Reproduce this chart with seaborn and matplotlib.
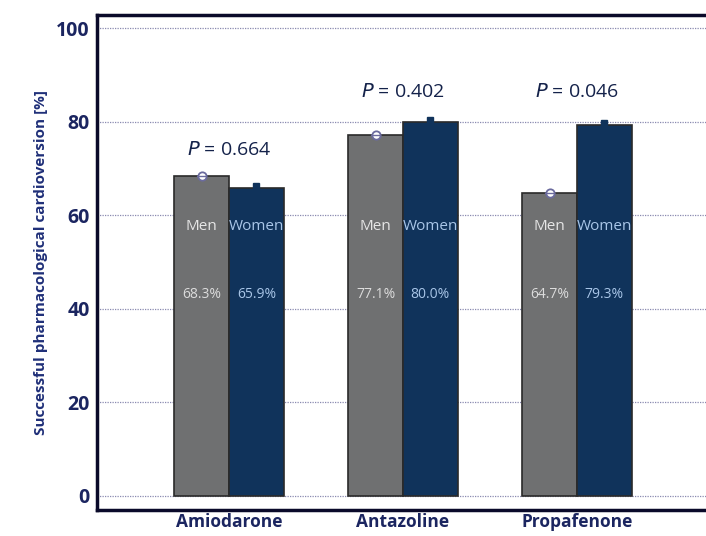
import matplotlib
matplotlib.use("Agg")
import matplotlib.pyplot as plt
from matplotlib.ticker import MultipleLocator
import seaborn as sns
import pandas as pd

# values
drugs = ["Amiodarone", "Antazoline", "Propafenone"]
sexes = ["Men", "Women"]
men_pct = [68.3, 77.1, 64.7]
women_pct = [65.9, 80.0, 79.3]
p_values = ["0.664", "0.402", "0.046"]
p_label_y = [74, 86.3, 86.3]

df = pd.DataFrame({
    "drug": drugs * 2,
    "sex": ["Men"] * 3 + ["Women"] * 3,
    "pct": men_pct + women_pct,
})

sns.set_style("white")
plt.rcParams["font.family"] = ["Open Sans", "DejaVu Sans"]

navy_text = "#1b2560"
fig = plt.figure(figsize=(7.06, 5.36), dpi=100)
ax = fig.add_axes([0.137, 0.0485, 0.87, 0.9235])

sns.barplot(data=df, x="drug", y="pct", hue="sex", order=drugs, hue_order=sexes,
            palette={"Men": "#6f7071", "Women": "#10335b"}, width=0.63,
            saturation=1, edgecolor="#2a2a2a", linewidth=1.2, errorbar=None,
            legend=False, ax=ax, zorder=3)

ax.set_xlim(-0.76, 2.77)
ax.set_ylim(-3, 102.8)

# error markers on top of the bars
off = 0.63 / 4
for i in range(3):
    ax.plot(i - off, men_pct[i], marker="o", ms=6, mfc="white", mec="#6b6b9e",
            mew=1.3, zorder=5)
    ax.plot([i - off - 0.025, i - off + 0.025], [men_pct[i]] * 2, color="#6b6b9e",
            lw=1, zorder=6)
    ax.plot(i + off, women_pct[i] + 0.4, marker="s", ms=5, color="#10335b", zorder=5)

    ax.text(i - off, 57.5, "Men", ha="center", va="center", fontsize=11,
            color="#e6e6e6", zorder=6)
    ax.text(i + off, 57.5, "Women", ha="center", va="center", fontsize=11,
            color="#a9c6e8", zorder=6)
    ax.text(i - off, 43, f"{men_pct[i]:.1f}%", ha="center", va="center",
            fontsize=10, color="#dcdcdc", zorder=6)
    ax.text(i + off, 43, f"{women_pct[i]:.1f}%", ha="center", va="center",
            fontsize=10, color="#a9c6e8", zorder=6)
    ax.text(i, p_label_y[i], "$P$ = " + p_values[i], ha="center", va="center",
            fontsize=14, color="#14224a", zorder=6)

# axes styling
ax.yaxis.set_major_locator(MultipleLocator(20))
ax.yaxis.set_minor_locator(MultipleLocator(10))
ax.grid(axis="y", which="major", linestyle=(0, (1, 1)), color="#8a8ab0",
        linewidth=0.9, zorder=0)
ax.set_axisbelow(True)
ax.tick_params(axis="y", which="major", direction="in", length=7, width=2.2,
               color="#111111", labelsize=14, labelcolor=navy_text, pad=5)
ax.tick_params(axis="y", which="minor", direction="in", length=4, width=1.2,
               color="#a02020")
ax.tick_params(axis="x", direction="in", length=7, width=1.8, color="#111111",
               labelsize=12.5, labelcolor=navy_text, pad=2)
for lab in ax.get_yticklabels() + ax.get_xticklabels():
    lab.set_fontweight("bold")

for name in ["left", "bottom", "top"]:
    ax.spines[name].set_linewidth(2.5)
    ax.spines[name].set_color("#0a0a2a")
ax.spines["right"].set_visible(False)

ax.set_xlabel("")
ax.set_ylabel("Successful pharmacological cardioversion [%]", fontsize=11,
              fontweight="bold", color="#1f2f78", labelpad=6)

fig.savefig("out.png", dpi=100)
